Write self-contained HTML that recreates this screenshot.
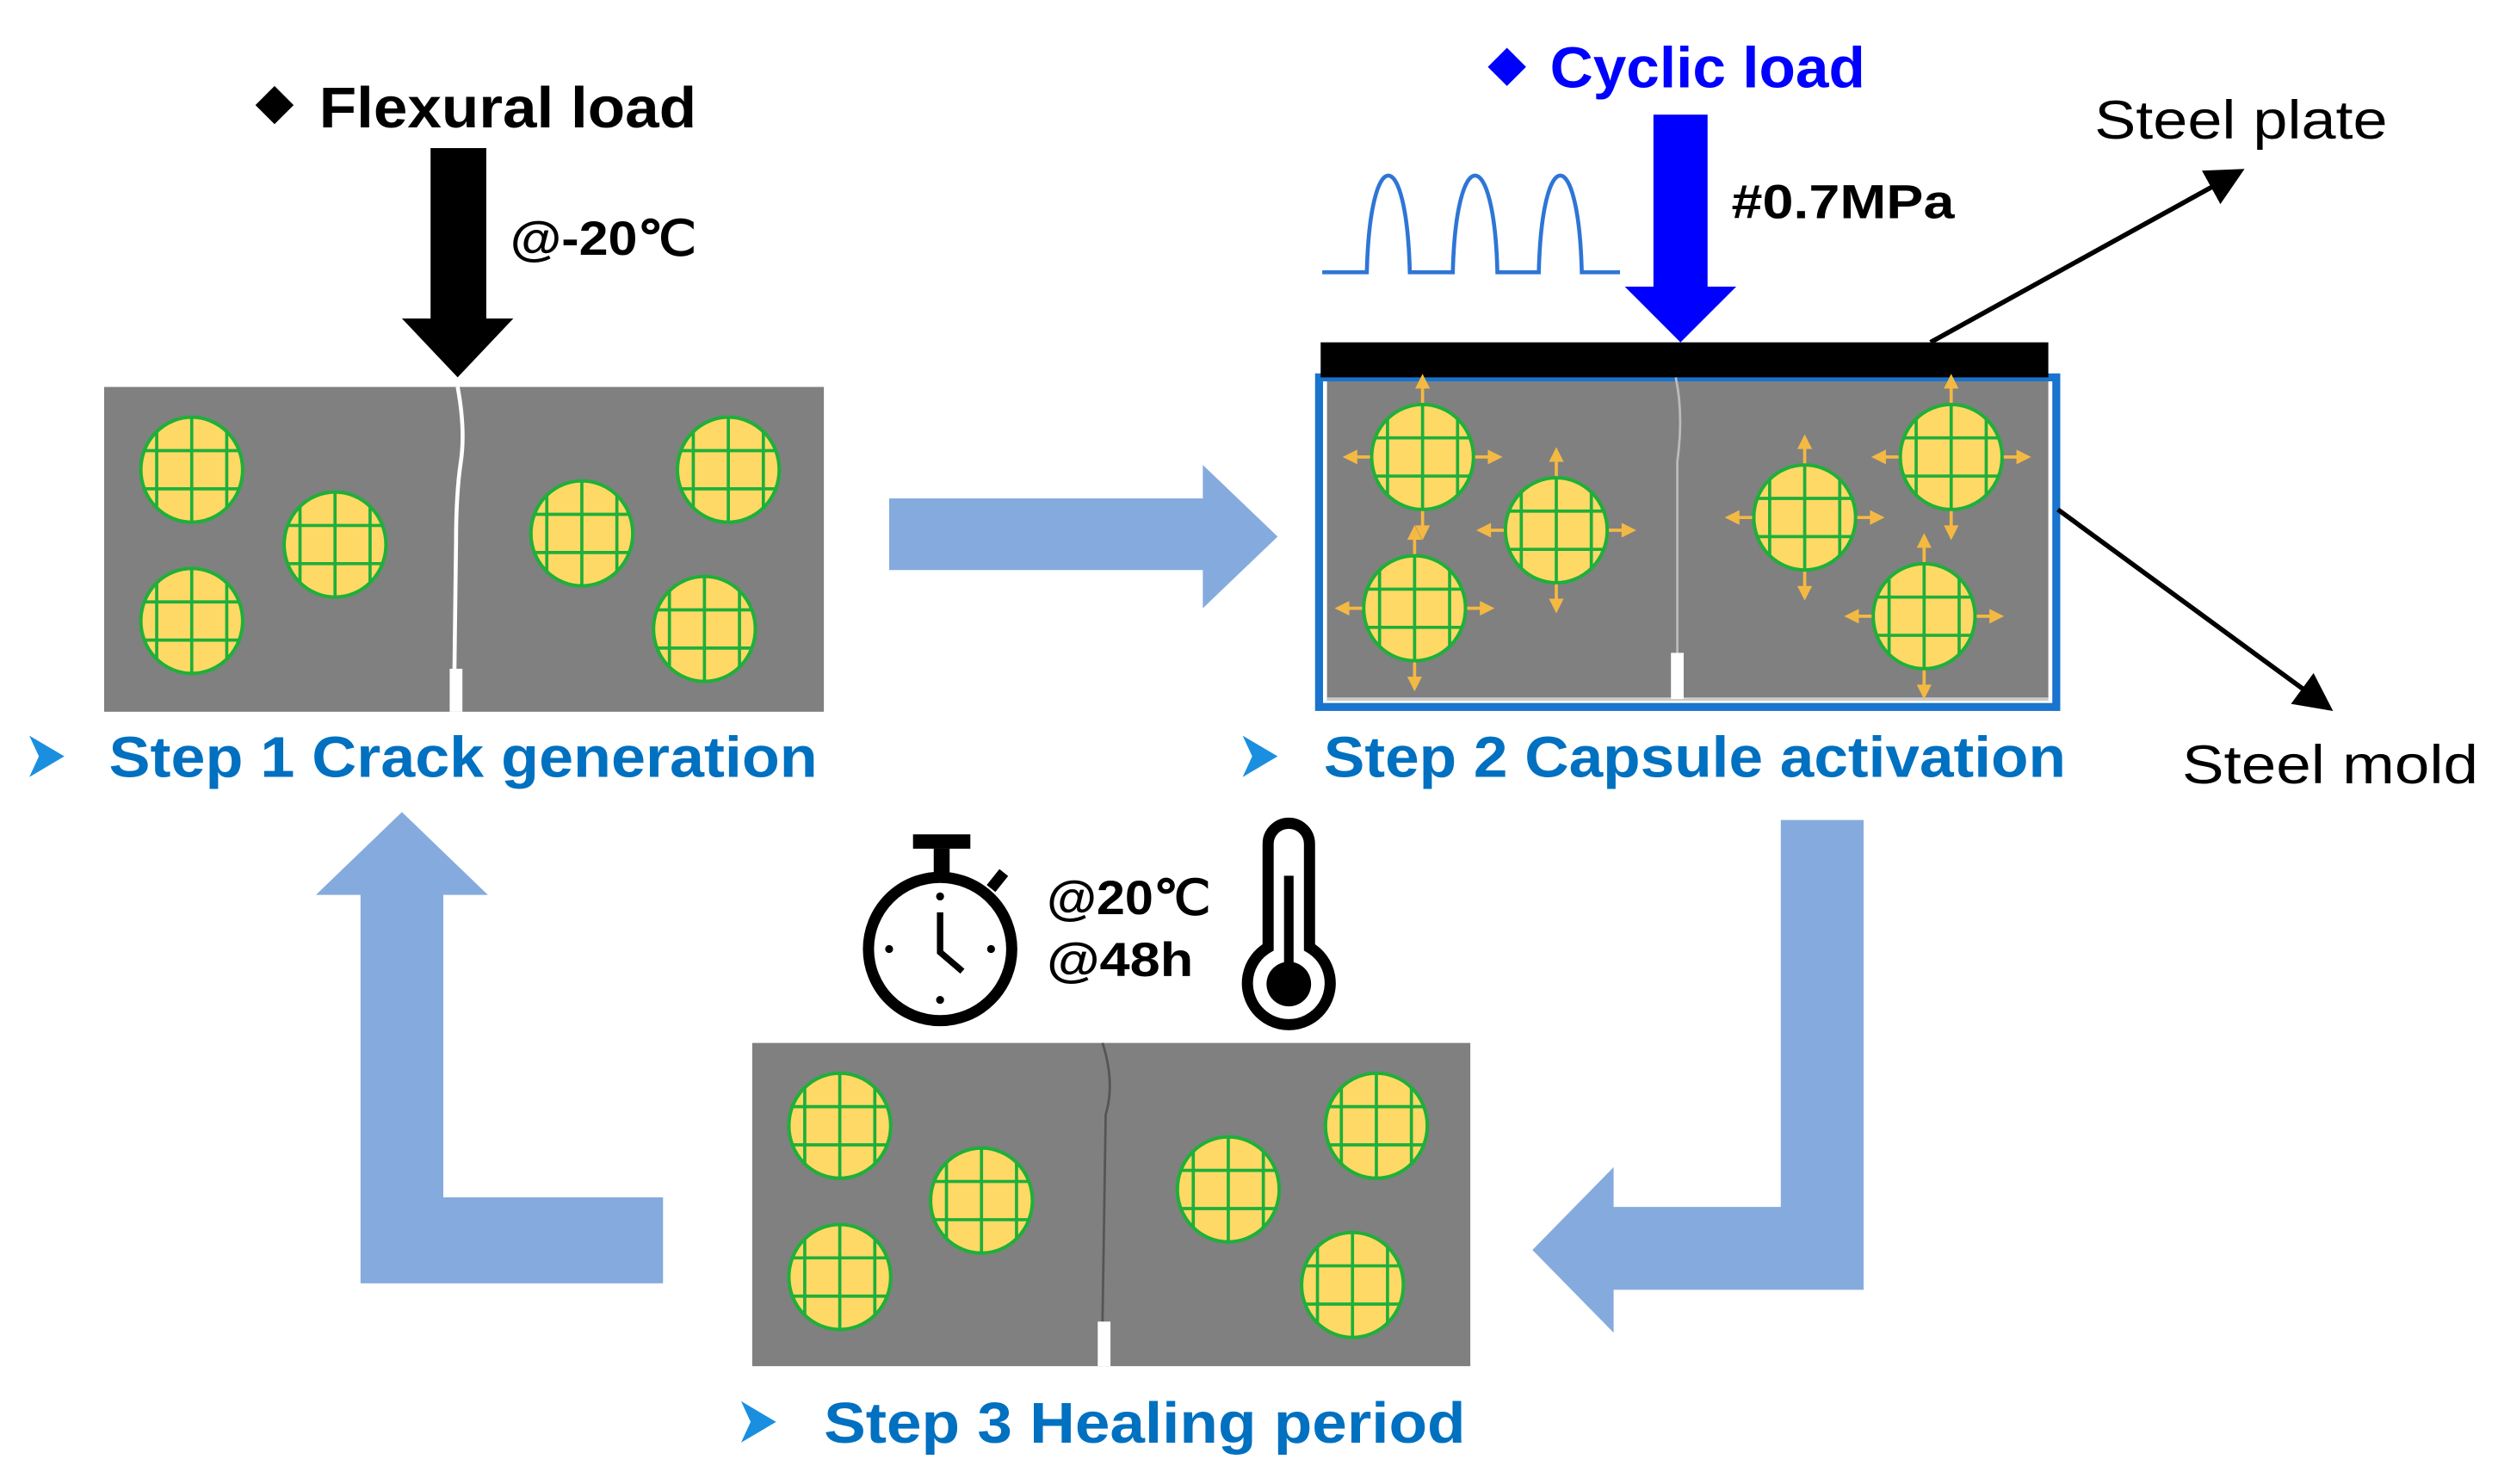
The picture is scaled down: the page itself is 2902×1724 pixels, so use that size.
<!DOCTYPE html>
<html><head><meta charset="utf-8"><style>html,body{margin:0;padding:0;background:#fff}svg{display:block}</style></head>
<body>
<svg width="2902" height="1724" viewBox="0 0 1568 932" xmlns="http://www.w3.org/2000/svg" font-family="Liberation Sans, sans-serif">
<defs>
<g id="cap">
  <ellipse cx="0" cy="0" rx="32" ry="33" fill="#FFD966" stroke="#1FAF3A" stroke-width="2.2"/>
  <g stroke="#1FAF3A" stroke-width="2">
    <line x1="0" y1="-33" x2="0" y2="33"/>
    <line x1="-22" y1="-24" x2="-22" y2="24"/>
    <line x1="22" y1="-24" x2="22" y2="24"/>
    <line x1="-30" y1="-12" x2="30" y2="-12"/>
    <line x1="-30" y1="12" x2="30" y2="12"/>
  </g>
</g>
<g id="caparr">
  <use href="#cap"/>
  <g stroke="#F4B942" stroke-width="2" fill="#F4B942">
    <line x1="0" y1="-34" x2="0" y2="-46"/><polygon points="-3,-44 3,-44 0,-50"/>
    <line x1="0" y1="34" x2="0" y2="46"/><polygon points="-3,44 3,44 0,50"/>
    <line x1="-33" y1="0" x2="-44" y2="0"/><polygon points="-42,-3 -42,3 -48,0"/>
    <line x1="33" y1="0" x2="44" y2="0"/><polygon points="42,-3 42,3 48,0"/>
  </g>
</g>
<marker id="ah" markerWidth="8" markerHeight="8" refX="6" refY="4" orient="auto" markerUnits="strokeWidth">
  <path d="M0,0 L8,4 L0,8 Z" fill="#000"/>
</marker>
</defs>

<!-- Step 1 -->
<polygon points="172,54 184,66 172,78 160,66" fill="#000"/>
<text x="200" y="80" font-size="36" font-weight="bold" textLength="237" lengthAdjust="spacingAndGlyphs">Flexural load</text>
<rect x="270" y="93" width="35" height="108" fill="#000"/>
<polygon points="252,200 322,200 287,237" fill="#000"/>
<text x="320" y="160" font-size="30" font-weight="bold" textLength="117" lengthAdjust="spacingAndGlyphs">@-20℃</text>
<rect x="65" y="243" width="452" height="204" fill="#808080"/>
<path d="M287,243 Q292,270 289,290 Q286,310 286,340 L285,420" stroke="#fff" stroke-width="2.5" fill="none"/>
<rect x="282" y="420" width="8" height="27" fill="#fff"/>
<use href="#cap" x="120" y="295"/><use href="#cap" x="210" y="342"/><use href="#cap" x="120" y="390"/>
<use href="#cap" x="365" y="335"/><use href="#cap" x="457" y="295"/><use href="#cap" x="442" y="395"/>
<polygon points="558,313 755,313 755,292 802,337 755,382 755,358 558,358" fill="#85ABDE"/>
<polygon points="18,462 40,475 18,488 24,475" fill="#1A8FE0"/>
<text x="68" y="488" font-size="36" font-weight="bold" fill="#0070C0" textLength="445" lengthAdjust="spacingAndGlyphs">Step 1 Crack generation</text>

<!-- Step 2 -->
<polygon points="946,30 958,42 946,54 934,42" fill="#0000FF"/>
<text x="973" y="55" font-size="36" font-weight="bold" fill="#0000FF" textLength="198" lengthAdjust="spacingAndGlyphs">Cyclic load</text>
<rect x="1038" y="72" width="34" height="110" fill="#0000FF"/>
<polygon points="1020,180 1090,180 1055,215" fill="#0000FF"/>
<text x="1087" y="137" font-size="30" font-weight="bold" textLength="140" lengthAdjust="spacingAndGlyphs">#0.7MPa</text>
<path d="M830,171 L858,171 C860,90 883,90 885,171 L912,171 C914,90 938,90 940,171 L966,171 C968,90 991,90 993,171 L1017,171" stroke="#2E75D6" stroke-width="2.5" fill="none"/>
<rect x="833" y="237" width="453" height="203" fill="#808080"/>
<rect x="828" y="237" width="463" height="207" fill="none" stroke="#1874CD" stroke-width="5"/>
<line x1="833" y1="439" x2="1286" y2="439" stroke="#ccc" stroke-width="2"/>
<rect x="829" y="215" width="457" height="22" fill="#000"/>
<path d="M1052,237 Q1057,260 1053,290 L1053,410" stroke="#bbb" stroke-width="1.5" fill="none"/>
<rect x="1049" y="410" width="8" height="29" fill="#fff"/>
<use href="#caparr" x="893" y="287"/><use href="#caparr" x="977" y="333"/><use href="#caparr" x="888" y="382"/>
<use href="#caparr" x="1133" y="325"/><use href="#caparr" x="1225" y="287"/><use href="#caparr" x="1208" y="387"/>
<line x1="1212" y1="215" x2="1404" y2="109" stroke="#000" stroke-width="3" marker-end="url(#ah)"/>
<line x1="1292" y1="320" x2="1460" y2="443" stroke="#000" stroke-width="3" marker-end="url(#ah)"/>
<text x="1315" y="87" font-size="34" textLength="184" lengthAdjust="spacingAndGlyphs">Steel plate</text>
<text x="1370" y="492" font-size="34" textLength="186" lengthAdjust="spacingAndGlyphs">Steel mold</text>
<polygon points="780,462 802,475 780,488 786,475" fill="#1A8FE0"/>
<text x="831" y="488" font-size="36" font-weight="bold" fill="#0070C0" textLength="466" lengthAdjust="spacingAndGlyphs">Step 2 Capsule activation</text>

<!-- cycle arrows -->
<polygon points="1118,515 1170,515 1170,810 1013,810 1013,837 962,785 1013,733 1013,758 1118,758" fill="#85ABDE"/>
<polygon points="226,806 416,806 416,752 278,752 278,562 306,562 252,510 198,562 226,562" fill="#85ABDE"/>

<!-- Step 3 -->
<rect x="573" y="524" width="36" height="9" fill="#000"/>
<rect x="586" y="533" width="10" height="17" fill="#000"/>
<line x1="622" y1="558" x2="630" y2="548" stroke="#000" stroke-width="7"/>
<circle cx="590" cy="596" r="45" fill="none" stroke="#000" stroke-width="7"/>
<g fill="#000"><circle cx="590" cy="563" r="2.5"/><circle cx="590" cy="628" r="2.5"/><circle cx="558" cy="596" r="2.5"/><circle cx="622" cy="596" r="2.5"/></g>
<path d="M590,573 L590,598 L604,610" stroke="#000" stroke-width="4" fill="none"/>
<text x="657" y="574" font-size="30" font-weight="bold" textLength="103" lengthAdjust="spacingAndGlyphs">@20℃</text>
<text x="657" y="613" font-size="30" font-weight="bold" textLength="92" lengthAdjust="spacingAndGlyphs">@48h</text>
<path d="M796,595 L796,530 A13,13 0 0 1 822,530 L822,595 A26,26 0 1 1 796,595 Z" fill="#fff" stroke="#000" stroke-width="7"/>
<rect x="806" y="550" width="6" height="60" fill="#000"/>
<circle cx="809" cy="618" r="14" fill="#000"/>
<rect x="472" y="655" width="451" height="203" fill="#808080"/>
<path d="M692,655 Q700,680 694,700 L692,830" stroke="#555" stroke-width="1.5" fill="none"/>
<rect x="689" y="830" width="8" height="28" fill="#fff"/>
<use href="#cap" x="527" y="707"/><use href="#cap" x="616" y="754"/><use href="#cap" x="527" y="802"/>
<use href="#cap" x="771" y="747"/><use href="#cap" x="864" y="707"/><use href="#cap" x="849" y="807"/>
<polygon points="465,880 487,893 465,906 471,893" fill="#1A8FE0"/>
<text x="517" y="906" font-size="36" font-weight="bold" fill="#0070C0" textLength="403" lengthAdjust="spacingAndGlyphs">Step 3 Healing period</text>
</svg>
</body></html>
